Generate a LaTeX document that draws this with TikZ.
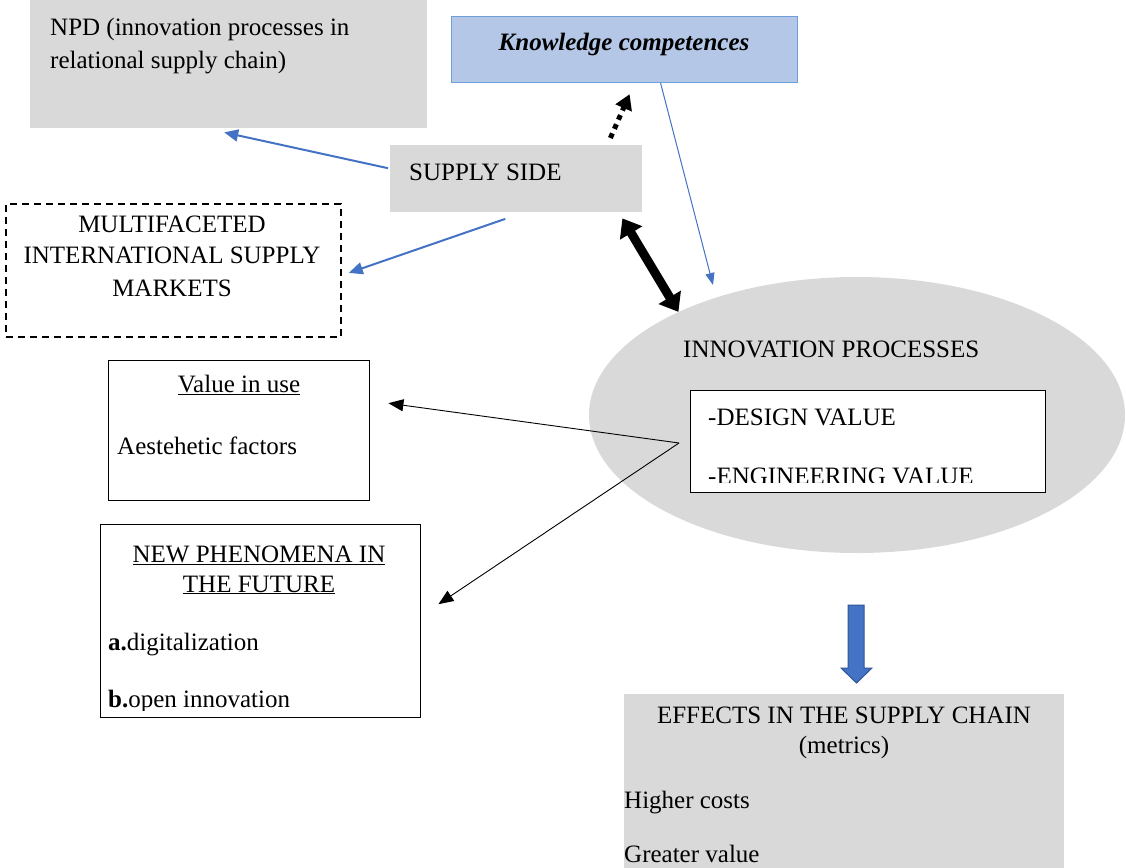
\documentclass[tikz,border=0pt]{standalone}
\usepackage{fontspec}
\setmainfont{Liberation Serif}
\usetikzlibrary{arrows.meta,shapes.geometric}
\definecolor{boxgray}{HTML}{D9D9D9}
\definecolor{kfill}{HTML}{B4C7E7}
\definecolor{kdraw}{HTML}{6F9FD8}
\definecolor{arrblue}{HTML}{4472C4}
\definecolor{arrblued}{HTML}{2F5597}
\begin{document}
\begin{tikzpicture}[x=1pt,y=-1pt,
  txt/.style={font=\fontsize{25}{32}\selectfont, inner sep=0pt, anchor=base west},
  ctxt/.style={txt, anchor=base},
  graybox/.style={fill=boxgray, draw=none, inner sep=0pt, anchor=north west},
  linebox/.style={draw=black, line width=1.4pt, fill=white, inner sep=0pt, anchor=north west},
  bluearr/.style={draw=arrblue, line width=2pt, -{Triangle[length=14pt,width=12pt]}},
  thinarr/.style={draw=black, line width=0.9pt, -{Triangle[length=15pt,width=12pt]}},
]
\useasboundingbox (0,0) rectangle (1126,867);

% boxes
\node[graybox, minimum width=397pt, minimum height=128pt] (npd) at (30,0) {};
\node[fill=kfill, draw=kdraw, line width=1.2pt, inner sep=0pt, anchor=north west,
      minimum width=346pt, minimum height=66pt] (know) at (451,16) {};
\node[graybox, minimum width=252pt, minimum height=67pt] (supply) at (390,145) {};
\node[linebox, dash pattern=on 7pt off 5pt, line width=1.8pt,
      minimum width=335pt, minimum height=133pt] (multi) at (5,203) {};
\node[linebox, minimum width=261pt, minimum height=140pt] (value) at (108,360) {};
\node[linebox, minimum width=320pt, minimum height=193pt] (newph) at (100,524) {};
\node[ellipse, fill=boxgray, draw=none, inner sep=0pt,
      minimum width=536pt, minimum height=276pt] (inno) at (857,415) {};
\node[linebox, minimum width=355pt, minimum height=102pt] (inner) at (690,390) {};
\node[graybox, minimum width=440pt, minimum height=180pt] (effects) at (624,694) {};

% texts
\node[txt] (npdA) at (50,36) {NPD (innovation processes in};
\node[txt] (npdB) at (50,68) {relational supply chain)};
\node[ctxt, font=\fontsize{25}{32}\selectfont\bfseries\itshape] (knowT) at (624,51) {Knowledge competences};
\node[txt] (supT) at (409,180) {SUPPLY SIDE};
\node[ctxt] (mulA) at (172,232) {MULTIFACETED};
\node[ctxt] (mulB) at (172,263) {INTERNATIONAL SUPPLY};
\node[ctxt] (mulC) at (172,296) {MARKETS};
\node[ctxt] (valT) at (239,392) {\underline{Value in use}};
\node[txt] (aesT) at (117,454) {Aestehetic factors};
\node[ctxt] (newA) at (259,562) {\underline{NEW PHENOMENA IN}};
\node[ctxt] (newB) at (259,592) {\underline{THE FUTURE}};
\node[txt] (newC) at (108,650) {\textbf{a.}digitalization};
\begin{scope}
  \clip (100,524) rectangle (420,710);
  \node[txt] (newD) at (108,707) {\textbf{b.}open innovation};
\end{scope}
\node[txt] (innoT) at (683,357) {INNOVATION PROCESSES};
\node[txt] (desT) at (708,425) {-DESIGN VALUE};
\begin{scope}
  \clip (690,390) rectangle (1045,482);
  \node[txt] (engT) at (708,484) {-ENGINEERING VALUE};
\end{scope}
\node[ctxt] (effA) at (844,723) {EFFECTS IN THE SUPPLY CHAIN};
\node[ctxt] (effB) at (844,753) {(metrics)};
\node[txt] (effC) at (624,808) {Higher costs};
\node[txt] (effD) at (624,862) {Greater value};

% connectors
\coordinate (kend) at (713,285);
\coordinate (vtx) at (679,443);
\draw[bluearr] ([xshift=-2pt,yshift=10.5pt]supply.west) -- ([xshift=-4.5pt,yshift=-4pt]npd.south);
\draw[bluearr] ([xshift=-11pt,yshift=-6.5pt]supply.south) -- ([xshift=7pt,yshift=-2.5pt]multi.east);
\draw[draw=arrblue, line width=1pt, -{Triangle[length=12pt,width=9pt]}] ([xshift=36pt]know.south) -- (kend);
\draw[line width=5pt, dash pattern=on 5pt off 5pt, -{Triangle[length=15pt,width=17pt]}]
  ([xshift=-32pt,yshift=7pt]supply.north east) -- ([xshift=5pt,yshift=-11pt]know.south);
\draw[line width=9pt, {Triangle[length=17pt,width=25pt]}-{Triangle[length=17pt,width=25pt]}]
  ([xshift=-20pt,yshift=-6pt]supply.south east) -- (inno.150);
\draw[thinarr] (vtx) -- ([xshift=18pt,yshift=27.5pt]value.east);
\draw[thinarr] (vtx) -- ([xshift=17pt,yshift=17pt]newph.east);
% block arrow
\draw[fill=arrblue, draw=arrblued, line width=1pt]
  (848,605) -- (864,605) -- (864,668) -- (872,668) -- (856.5,683) -- (841,668) -- (848,668) -- cycle;
\end{tikzpicture}
\end{document}
